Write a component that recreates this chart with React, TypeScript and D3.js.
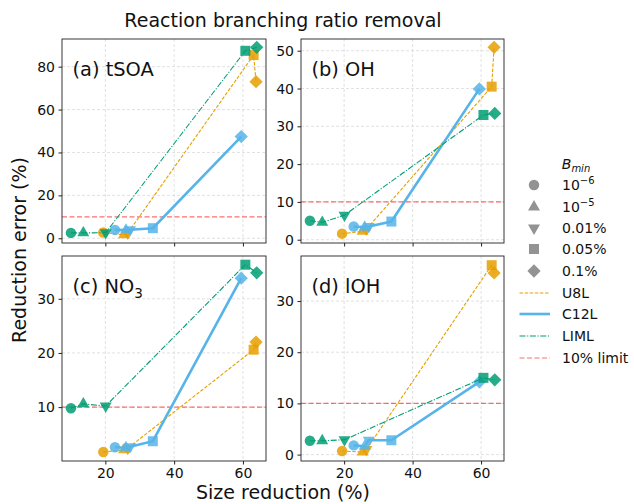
import { useEffect, useRef } from "react";
import * as d3 from "d3";

// B_min thresholds, in plotting order (marker shape per entry)
const bminLabels = [["10", "−6"], ["10", "−5"], ["0.01%"], ["0.05%"], ["0.1%"]];

// size reduction (%) per mechanism, same for all panels
const sizeU8L = [19.4, 25.4, 26.5, 63.1, 63.8];
const sizeC12L = [22.8, 26.0, 27.2, 33.8, 59.5];
const sizeLIML = [10.0, 13.6, 20.1, 60.7, 64.0];

// reduction error (%) per panel
const tsoaU8L = [2.7, 1.6, 2.4, 85.4, 73.0];
const tsoaC12L = [3.9, 3.8, 4.0, 4.7, 47.4];
const tsoaLIML = [2.5, 2.5, 2.6, 87.4, 89.0];

const ohU8L = [1.6, 2.2, 2.8, 40.5, 50.9];
const ohC12L = [3.5, 3.3, 3.5, 4.8, 39.9];
const ohLIML = [5.0, 4.6, 6.5, 33.0, 33.4];

const no3U8L = [1.7, 2.1, 2.4, 20.6, 22.0];
const no3C12L = [2.6, 2.5, 2.7, 3.7, 33.8];
const no3LIML = [9.8, 10.6, 10.2, 36.3, 34.8];

const iohU8L = [0.7, 0.5, 1.0, 37.0, 35.5];
const iohC12L = [1.8, 1.6, 2.8, 2.8, 14.2];
const iohLIML = [2.7, 2.7, 2.9, 15.0, 14.6];

const xTicks = [20, 40, 60];
const tsoaTicks = [0, 20, 40, 60, 80];
const ohTicks = [0, 10, 20, 30, 40, 50];
const no3Ticks = [10, 20, 30];
const iohTicks = [0, 10, 20, 30];

const limit = 10;

const FONT = "DejaVu Sans, sans-serif";

export default function App() {
  const ref = useRef<SVGSVGElement>(null);

  useEffect(() => {
    document.body.style.margin = "0";
    const width = 634;
    const height = 504;
    const svg = d3.select(ref.current);
    svg.selectAll("*").remove();
    svg.attr("width", width).attr("height", height).style("display", "block");
    svg.append("rect").attr("width", width).attr("height", height).attr("fill", "#fff");

    const series = [
      { name: "U8L", x: sizeU8L, color: "#E69F00", dash: "3.5,1.6", lw: 1.1 },
      { name: "C12L", x: sizeC12L, color: "#56B4E9", dash: null, lw: 2.6 },
      { name: "LIML", x: sizeLIML, color: "#009E73", dash: "6,1.6,1.2,1.6", lw: 1.1 },
    ];

    const panels = [
      { label: "(a) tSOA", sub: "", ys: [tsoaU8L, tsoaC12L, tsoaLIML], dom: [-2.2, 92.9], ticks: tsoaTicks, col: 0, row: 0 },
      { label: "(b) OH", sub: "", ys: [ohU8L, ohC12L, ohLIML], dom: [-0.87, 53.1], ticks: ohTicks, col: 1, row: 0 },
      { label: "(c) NO", sub: "3", ys: [no3U8L, no3C12L, no3LIML], dom: [0.05, 37.9], ticks: no3Ticks, col: 0, row: 1 },
      { label: "(d) lOH", sub: "", ys: [iohU8L, iohC12L, iohLIML], dom: [-1.25, 38.8], ticks: iohTicks, col: 1, row: 1 },
    ];

    const colX = [[62, 266], [301, 504]];
    const rowY = [[39, 243], [256, 461]];

    const shapes = [
      d3.symbol().type(d3.symbolCircle).size(86),
      d3.symbol().type(d3.symbolTriangle).size(62),
      d3.symbol().type(d3.symbolTriangle).size(62),
      d3.symbol().type(d3.symbolSquare).size(100),
      d3.symbol().type(d3.symbolSquare).size(88),
    ];
    const rot = [0, 0, 180, 0, 45];

    panels.forEach((p) => {
      const [x0, x1] = colX[p.col];
      const [y0, y1] = rowY[p.row];
      const x = d3.scaleLinear().domain([7.4, 66.7]).range([x0, x1]);
      const y = d3.scaleLinear().domain(p.dom).range([y1, y0]);
      const g = svg.append("g");

      const clipId = `clip-${p.col}-${p.row}`;
      g.append("clipPath").attr("id", clipId)
        .append("rect").attr("x", x0).attr("y", y0).attr("width", x1 - x0).attr("height", y1 - y0);

      // grid
      g.append("g").selectAll("line").data(xTicks).join("line")
        .attr("x1", (d) => x(d)).attr("x2", (d) => x(d)).attr("y1", y0).attr("y2", y1)
        .attr("stroke", "#d9d9d9").attr("stroke-width", 0.8).attr("stroke-dasharray", "3,2");
      g.append("g").selectAll("line").data(p.ticks).join("line")
        .attr("x1", x0).attr("x2", x1).attr("y1", (d) => y(d)).attr("y2", (d) => y(d))
        .attr("stroke", "#d9d9d9").attr("stroke-width", 0.8).attr("stroke-dasharray", "3,2");

      // 10% limit
      g.append("line")
        .attr("x1", x0).attr("x2", x1).attr("y1", y(limit)).attr("y2", y(limit))
        .attr("stroke", "#ff3030").attr("stroke-opacity", 0.7).attr("stroke-width", 1.2)
        .attr("stroke-dasharray", "5,2.5");

      const plot = g.append("g").attr("clip-path", `url(#${clipId})`);
      series.forEach((s, si) => {
        const pts = s.x.map((v, i) => [v, p.ys[si][i]] as [number, number]);
        const line = d3.line<[number, number]>().x((d) => x(d[0])).y((d) => y(d[1]));
        plot.append("path").attr("d", line(pts)).attr("fill", "none")
          .attr("stroke", s.color).attr("stroke-width", s.lw)
          .attr("stroke-dasharray", s.dash);
        plot.append("g").selectAll("path").data(pts).join("path")
          .attr("d", (_d, i) => shapes[i]())
          .attr("transform", (d, i) => `translate(${x(d[0])},${y(d[1])}) rotate(${rot[i]})`)
          .attr("fill", s.color).attr("fill-opacity", 0.85);
      });

      // frame
      g.append("rect").attr("x", x0).attr("y", y0).attr("width", x1 - x0).attr("height", y1 - y0)
        .attr("fill", "none").attr("stroke", "#222").attr("stroke-width", 0.9);

      // y axis
      const ya = g.append("g").attr("transform", `translate(${x0},0)`)
        .call(d3.axisLeft(y).tickValues(p.ticks).tickSize(3.5).tickPadding(3.5));
      ya.select(".domain").remove();
      ya.selectAll("text").attr("font-family", FONT).attr("font-size", 14).attr("fill", "#111");
      ya.selectAll("line").attr("stroke", "#222");

      // x axis
      const xa = g.append("g").attr("transform", `translate(0,${y1})`)
        .call(d3.axisBottom(x).tickValues(xTicks).tickSize(3.5).tickPadding(3.5));
      xa.select(".domain").remove();
      xa.selectAll("line").attr("stroke", "#222");
      if (p.row === 0) xa.selectAll("text").remove();
      else xa.selectAll("text").attr("font-family", FONT).attr("font-size", 14).attr("fill", "#111");

      // panel label
      const t = g.append("text").attr("x", x0 + 10.5).attr("y", y0 + 37)
        .attr("font-family", FONT).attr("font-size", 19.4).attr("fill", "#111").text(p.label);
      if (p.sub) t.append("tspan").attr("font-size", 13.5).attr("dy", 5).text(p.sub);
    });

    // title and axis labels
    svg.append("text").attr("x", 283).attr("y", 27).attr("text-anchor", "middle")
      .attr("font-family", FONT).attr("font-size", 19).attr("fill", "#111")
      .text("Reaction branching ratio removal");
    svg.append("text").attr("x", 283).attr("y", 499).attr("text-anchor", "middle")
      .attr("font-family", FONT).attr("font-size", 19).attr("fill", "#111")
      .text("Size reduction (%)");
    svg.append("text").attr("transform", "translate(26,250) rotate(-90)").attr("text-anchor", "middle")
      .attr("font-family", FONT).attr("font-size", 19).attr("fill", "#111")
      .text("Reduction error (%)");

    // legend
    const lg = svg.append("g").attr("font-family", FONT).attr("font-size", 14).attr("fill", "#111");
    const bt = lg.append("text").attr("x", 576).attr("y", 164).attr("text-anchor", "middle")
      .attr("dominant-baseline", "central");
    bt.append("tspan").attr("font-style", "italic").text("B");
    bt.append("tspan").attr("font-style", "italic").attr("font-size", 10).attr("dy", 4).text("min");

    const rowsY = [185, 207, 228, 249, 271];
    bminLabels.forEach((lab, i) => {
      lg.append("path").attr("d", shapes[i]())
        .attr("transform", `translate(534,${rowsY[i]}) rotate(${rot[i]})`)
        .attr("fill", "#808080").attr("fill-opacity", 0.85);
      const tx = lg.append("text").attr("x", 562).attr("y", rowsY[i] + 5);
      tx.append("tspan").text(lab[0]);
      if (lab[1]) tx.append("tspan").attr("font-size", 10).attr("dy", -6).text(lab[1]);
    });

    const lineRows = [
      { name: "U8L", color: "#E69F00", dash: "3.5,1.6", lw: 1.1, op: 1 },
      { name: "C12L", color: "#56B4E9", dash: null, lw: 2.6, op: 1 },
      { name: "LIML", color: "#009E73", dash: "6,1.6,1.2,1.6", lw: 1.1, op: 1 },
      { name: "10% limit", color: "#ff3030", dash: "5,2.5", lw: 1.2, op: 0.7 },
    ];
    const lineY = [293, 314, 336, 358];
    lineRows.forEach((r, i) => {
      lg.append("line").attr("x1", 519.5).attr("x2", 550).attr("y1", lineY[i]).attr("y2", lineY[i])
        .attr("stroke", r.color).attr("stroke-width", r.lw).attr("stroke-dasharray", r.dash)
        .attr("stroke-opacity", r.op);
      lg.append("text").attr("x", 562).attr("y", lineY[i] + 5).text(r.name);
    });
  }, []);

  return <svg ref={ref} />;
}
